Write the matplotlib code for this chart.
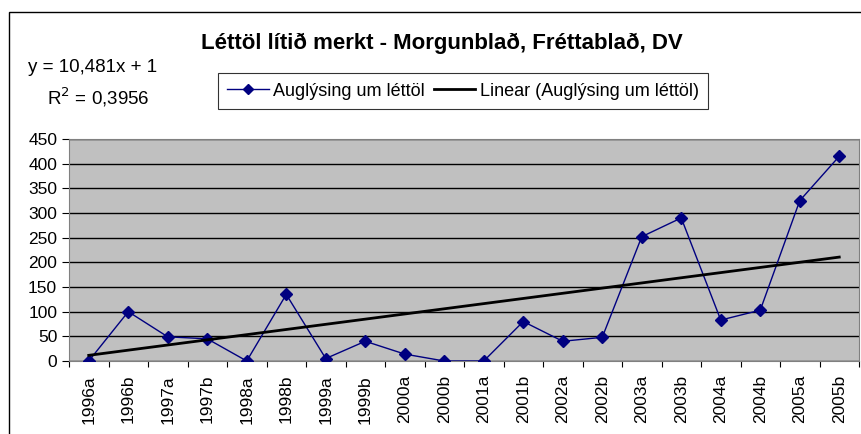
import numpy as np
import matplotlib
matplotlib.use('Agg')
import matplotlib.pyplot as plt
from matplotlib.patches import Rectangle

plt.rcParams['font.family'] = ['Liberation Sans', 'DejaVu Sans']

# gögn
periods = ['1996a', '1996b', '1997a', '1997b', '1998a', '1998b', '1999a', '1999b',
           '2000a', '2000b', '2001a', '2001b', '2002a', '2002b', '2003a', '2003b',
           '2004a', '2004b', '2005a', '2005b']
ads = [0, 100, 49, 45, 0, 135, 5, 40, 14, 0, 0, 80, 40, 48, 252, 290, 83, 103, 325, 415]
slope = 10.481
intercept = 1
r2 = 0.3956

x = np.arange(1, len(periods) + 1)
trend = slope * x + intercept

fig = plt.figure(figsize=(8.61, 4.34), dpi=100)
# ytri rammi
fig.patches.append(Rectangle((9 / 861, -0.1), 1.2, 0.1 + 1 - 12 / 434, transform=fig.transFigure,
                             fill=False, edgecolor='black', linewidth=1))

ax = fig.add_axes([69 / 861, 73 / 434, 790 / 861, 222 / 434])
ax.set_facecolor('#C0C0C0')
for s in ax.spines.values():
    s.set_color('#808080')

ax.plot(x, ads, color='#000080', marker='D', markersize=6, linewidth=1,
        label='Auglýsing um léttöl', zorder=3)
ax.plot(x, trend, color='black', linewidth=2, label='Linear (Auglýsing um léttöl)', zorder=4)

ax.set_ylim(0, 450)
ax.set_yticks(range(0, 451, 50))
ax.yaxis.grid(True, color='black', linewidth=1)
ax.set_axisbelow(True)
ax.set_xlim(0.5, len(periods) + 0.5)
ax.set_xticks(np.arange(0.5, len(periods) + 1, 1))
ax.set_xticklabels([])
ax.set_xticks(x, minor=True)
ax.set_xticklabels(periods, minor=True, rotation=90, fontsize=12.5)
ax.tick_params(axis='x', which='minor', length=0, pad=10)
ax.tick_params(axis='x', which='major', length=4, direction='out')
ax.tick_params(axis='y', length=5, direction='out', labelsize=12.5, pad=3.5)

fig.text(0.513, 0.9, 'Léttöl lítið merkt - Morgunblað, Fréttablað, DV',
         ha='center', va='center', fontsize=16, fontweight='bold')
fig.text(28 / 861, 1 - 68 / 434, 'y = 10,481x + 1', ha='left', va='center', fontsize=13.5)
fig.text(47 / 861, 1 - 97 / 434, 'R$^2$ = 0,3956', ha='left', va='center', fontsize=13.5)

leg = fig.legend(loc='center', bbox_to_anchor=(463 / 861, 1 - 91 / 434), ncol=2,
                 fontsize=13, frameon=True, fancybox=False, edgecolor='black',
                 handlelength=2.3, handletextpad=0.25, columnspacing=0.5,
                 borderpad=0.5, borderaxespad=0, markerscale=0.9)
leg.get_frame().set_linewidth(0.8)

fig.savefig('out.png', dpi=100)
